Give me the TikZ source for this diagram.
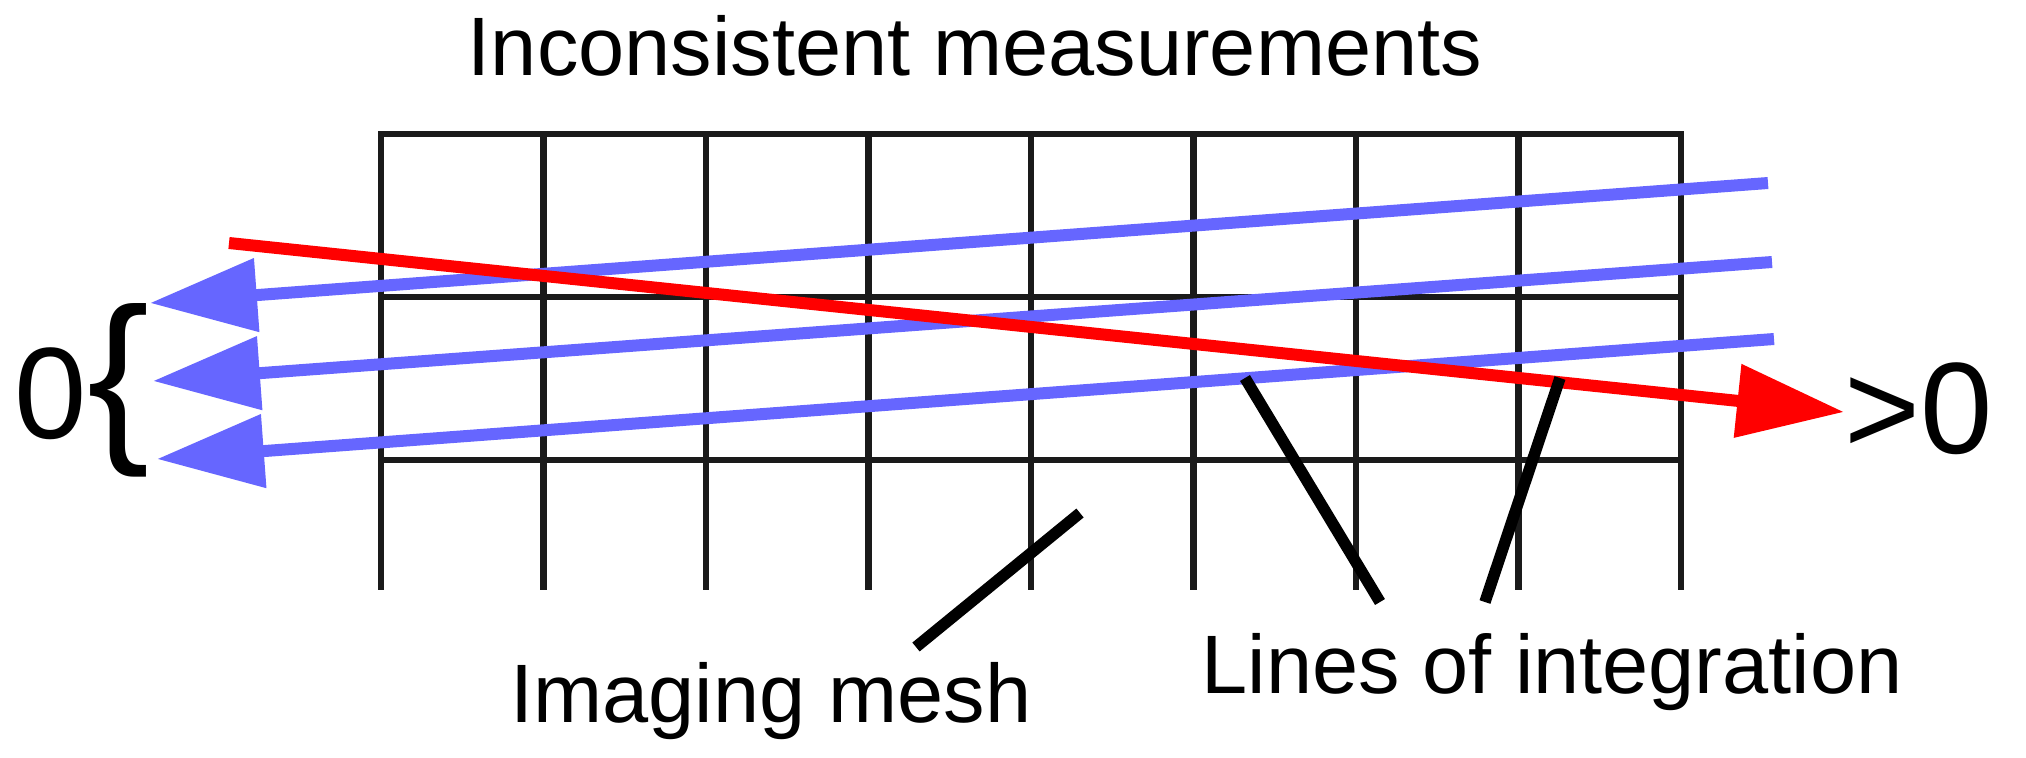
\documentclass[tikz,border=0pt]{standalone}
\usepackage{fontspec}
\setmainfont{Liberation Sans}
\usetikzlibrary{arrows.meta}
\definecolor{raybl}{HTML}{6666FF}
\definecolor{meshgr}{HTML}{1A1A1A}
\tikzstyle{mesh}=[draw, line width=0.65mm, meshgr, line cap=rect]
\tikzstyle{ray}=[draw, line width=1.2mm, raybl, -{Triangle[length=10.7mm, width=7.1mm]}]
\tikzstyle{hot}=[ray, red]
\tikzstyle{pointer}=[draw, line width=1.15mm, black]
\tikzstyle{caption}=[inner sep=0pt, anchor=base, font=\fontsize{23.6}{28}\selectfont]
\tikzstyle{value}=[caption, font=\fontsize{37}{44}\selectfont]
\begin{document}
\begin{tikzpicture}[x=0.1mm, y=-0.1mm]
	\useasboundingbox (0,0) rectangle (2026,758);

	% imaging mesh
	\foreach \c in {0,...,8}{
		\draw[mesh] ({381+162.5*\c},134) -- ({381+162.5*\c},587);
	}
	\foreach \r in {134,297,460}{
		\draw[mesh] (381,\r) -- (1681,\r);
	}

	\node[caption] (title) at (975,75) {Inconsistent measurements};
	\node[value] (zero) at (51,438) {0};
	\node[inner sep=0pt, font=\fontsize{53}{60}\selectfont] (brace) at (119,390) {\{};
	\node[value] (pos) at (1919,453) {>0};
	\node[caption] (mesh_lbl) at (771,722) {Imaging mesh};
	\node[caption] (lines_lbl) at (1552,693) {Lines of integration};

	\coordinate (b_1) at (1768,183);
	\coordinate (b_2) at (1772,262);
	\coordinate (b_3) at (1774,339);
	\coordinate (e_1) at (150,303);
	\coordinate (e_2) at (153,381);
	\coordinate (e_3) at (157,459);

	\foreach \i in {1,2,3}{
		\draw[ray] (b_\i) -- (e_\i);
	}

	\coordinate (r_1) at (229,243);
	\coordinate (r_2) at (1844,412);
	\draw[hot] (r_1) -- (r_2);

	% pointers to the labels
	\coordinate (m_1) at (916,647);
	\coordinate (m_2) at (1080,513);
	\draw[pointer] (m_1) -- (m_2);

	\coordinate (l_1) at (1380,602);
	\coordinate (l_2) at (1245,378);
	\coordinate (l_3) at (1485,602);
	\coordinate (l_4) at (1560,378);
	\draw[pointer] (l_1) -- (l_2);
	\draw[pointer] (l_3) -- (l_4);
\end{tikzpicture}
\end{document}
